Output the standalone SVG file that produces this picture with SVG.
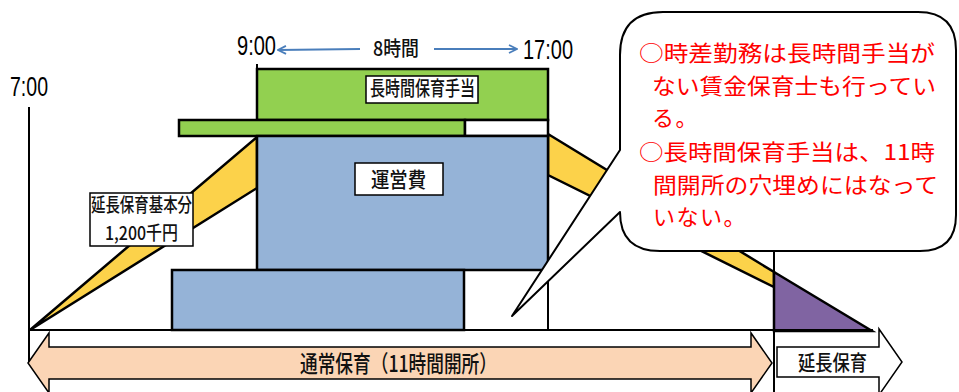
<svg xmlns="http://www.w3.org/2000/svg" width="959" height="392" viewBox="0 0 959 392">
<defs>
<marker id="chev" viewBox="0 0 10 10" refX="9" refY="5" markerWidth="10" markerHeight="10" markerUnits="userSpaceOnUse" orient="auto-start-reverse">
<path d="M1 1 L9 5 L1 9" fill="none" stroke="#4a7ebb" stroke-width="1.8"/>
</marker>
<style>
.ln{stroke:#000;stroke-width:2;fill:none}
.sh{stroke:#000;stroke-width:2.5;stroke-linejoin:miter}
.thin{stroke:#000;stroke-width:1.5}
.lbl{font-family:"Noto Sans CJK JP","Liberation Sans",sans-serif;fill:#111;font-weight:500}
.tm{font-family:"Liberation Sans","Noto Sans CJK JP",sans-serif;fill:#000}
.red{font-family:"Noto Sans CJK JP",sans-serif;fill:#ff0000;font-size:22px}
.yel{fill:#fcd24a}
.grn{fill:#92d050}
.blu{fill:#95b3d7}
</style>
</defs>
<rect width="959" height="392" fill="#fff"/>

<g id="wedge-left"><polygon class="yel sh" points="30,330 257,137 257,188"/></g>
<g id="wedge-right"><polygon class="yel sh" points="548,134 774,272 774,287 548,175"/></g>
<g id="purple"><polygon class="sh" fill="#8064a2" points="774,272 872,331 774,331"/></g>

<g id="green-top"><rect class="grn sh" x="257" y="69" width="291" height="51"/></g>
<g id="green-bar"><rect class="grn sh" x="179" y="120" width="286" height="16"/><rect class="sh" fill="#fff" x="465" y="120" width="83" height="16"/></g>
<g id="blue-main"><rect class="blu sh" x="257" y="136" width="291" height="134"/></g>
<g id="blue-lower"><rect class="blu sh" x="172" y="270" width="292" height="60"/></g>

<g id="connectors">
<line class="ln" x1="29" y1="107" x2="29" y2="363"/>
<line class="ln" x1="28" y1="330" x2="873" y2="330"/>
<line class="ln" x1="548" y1="120" x2="548" y2="330"/>
<line class="ln" x1="774" y1="230" x2="774" y2="392"/>
<line class="ln" x1="257" y1="64" x2="257" y2="69"/>
<line x1="360" y1="49" x2="278" y2="50" stroke="#4a7ebb" stroke-width="2" marker-end="url(#chev)"/>
<line x1="434" y1="49" x2="517" y2="49" stroke="#4a7ebb" stroke-width="2" marker-end="url(#chev)"/>
</g>

<g id="t700"><text class="tm" x="10" y="96" font-size="27" textLength="38" lengthAdjust="spacingAndGlyphs">7:00</text></g>
<g id="t900"><text class="tm" x="237" y="55" font-size="27" textLength="39" lengthAdjust="spacingAndGlyphs">9:00</text></g>
<g id="t1700"><text class="tm" x="523" y="59" font-size="27" textLength="50" lengthAdjust="spacingAndGlyphs">17:00</text></g>
<g id="t8h"><text class="lbl" x="373" y="56" font-size="20" textLength="46" lengthAdjust="spacingAndGlyphs">8時間</text></g>

<g id="lbl-choujikan"><rect class="thin" fill="#fff" x="366" y="76" width="112" height="27"/><text class="lbl" x="370" y="96" font-size="20" textLength="105" lengthAdjust="spacingAndGlyphs">長時間保育手当</text></g>
<g id="lbl-unei"><rect class="thin" fill="#fff" x="355" y="163" width="88" height="32"/><text class="lbl" x="371" y="187" font-size="21" textLength="55" lengthAdjust="spacingAndGlyphs">運営費</text></g>
<g id="lbl-enchou-kihon"><rect class="thin" fill="#fff" x="90" y="193" width="103" height="53"/><text class="lbl" x="91" y="212" font-size="19" textLength="101" lengthAdjust="spacingAndGlyphs">延長保育基本分</text><text class="lbl" x="105" y="240" font-size="19" textLength="73" lengthAdjust="spacingAndGlyphs">1,200千円</text></g>

<g id="arrow-tsujou"><path class="thin" fill="#fbd5b5" d="M28 363 L49 333 L49 347 L751 347 L751 333 L772 363 L751 393 L751 379 L49 379 L49 393 Z"/><text class="lbl" x="300" y="372" font-size="23" textLength="197" lengthAdjust="spacingAndGlyphs">通常保育（11時間開所）</text></g>
<g id="arrow-enchou"><path class="thin" fill="#fff" d="M777 347 L879 347 L879 329 L902 362 L879 395 L879 377 L777 377 Z"/><text class="lbl" x="798" y="370" font-size="21" textLength="69" lengthAdjust="spacingAndGlyphs">延長保育</text></g>

<g id="bubble">
<path d="M620 150 L620 55 Q620 12 663 12 L918 12 Q956 12 956 50 L956 215 Q956 251 920 251 L660 251 Q620 251 620 212 L512 316 Z" fill="#fff" stroke="#000" stroke-width="2" stroke-linejoin="round"/>
<text class="red" x="639" y="61" textLength="296" lengthAdjust="spacingAndGlyphs">○時差勤務は長時間手当が</text>
<text class="red" x="652" y="94" textLength="284" lengthAdjust="spacingAndGlyphs">ない賃金保育士も行ってい</text>
<text class="red" x="652" y="126" letter-spacing="1.5">る。</text>
<text class="red" x="639" y="160" textLength="296" lengthAdjust="spacingAndGlyphs">○長時間保育手当は、11時</text>
<text class="red" x="653" y="193" textLength="285" lengthAdjust="spacingAndGlyphs">間開所の穴埋めにはなって</text>
<text class="red" x="653" y="225" letter-spacing="1.5">いない。</text>
</g>
</svg>
